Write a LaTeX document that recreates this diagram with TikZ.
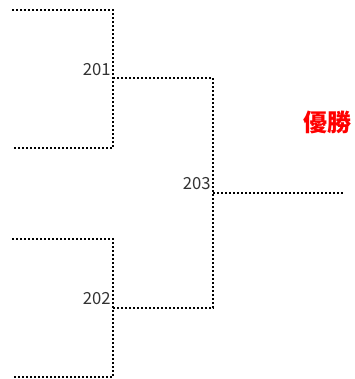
\documentclass[tikz,border=0pt]{standalone}
\usepackage{fontspec}
\setmainfont{Noto Sans CJK JP}
\begin{document}
\begin{tikzpicture}[x=0.75pt,y=-0.75pt,
  line/.style={line width=1.5pt, dash pattern=on 1.5pt off 1.5pt, black},
  num/.style={font=\fontsize{12.5pt}{13pt}\selectfont, text=black!80, inner sep=0pt, anchor=south east},
  win/.style={font=\fontsize{18pt}{20pt}\selectfont\bfseries, text=red, inner sep=0pt}]
\useasboundingbox (0,0) rectangle (354,379);
\coordinate (a1) at (12,10);
\coordinate (a2) at (113,10);
\coordinate (b1) at (12,148);
\coordinate (b2) at (113,148);
\coordinate (m1) at (113,78);
\coordinate (m2) at (213,78);
\coordinate (c1) at (12,239);
\coordinate (c2) at (113,239);
\coordinate (d1) at (12,377);
\coordinate (d2) at (113,377);
\coordinate (n1) at (113,308);
\coordinate (n2) at (213,308);
\coordinate (f1) at (213,193);
\coordinate (f2) at (345,193);
\draw[line] (a1) -- (a2) -- (b2) -- (b1);
\draw[line] (c1) -- (c2) -- (d2) -- (d1);
\draw[line] (m1) -- (m2) -- (n2) -- (n1);
\draw[line] (f1) -- (f2);
\node[num] (l201) at (111,76) {201};
\node[num] (l202) at (111,305) {202};
\node[num] (l203) at (211,190) {203};
\node[win] (w) at (327,122) {優勝};
\end{tikzpicture}
\end{document}
